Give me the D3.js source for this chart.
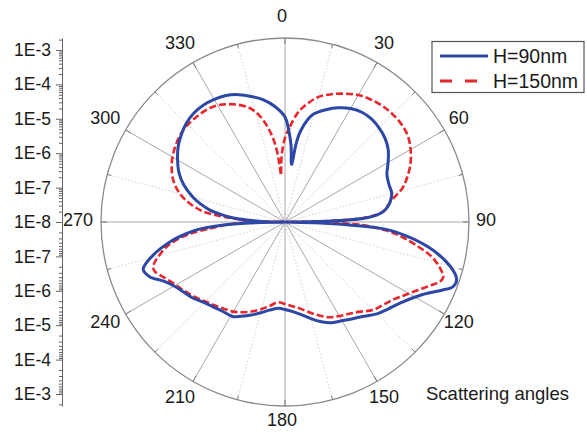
<!DOCTYPE html>
<html>
<head>
<meta charset="utf-8">
<script src="https://cdn.jsdelivr.net/npm/d3@7"></script>
<style>
  body { margin: 0; background: #fff; }
  svg { display: block; }
  text { font-family: "Liberation Sans", Arial, sans-serif; fill: #1a1a1a; }
</style>
</head>
<body>
<svg id="chart" width="587" height="432"></svg>
<script>
// Scattered intensity vs. scattering angle (degrees, clockwise from top)
const seriesNames = ["H=90nm", "H=150nm"];

const h90Angles = [0, 2, 4.5, 6.5, 8, 9.5, 12.5, 15, 20, 25, 30, 35, 40, 45, 50, 55, 60, 65, 70, 75, 80, 83, 85, 87, 88.5, 89.5, 90.5, 91.5, 92.5, 93.5, 95, 100, 105, 108.5, 111, 113.5, 118, 125, 130, 135, 140, 145, 150, 155, 160, 165, 170, 175, 180, 184, 190, 195, 200, 205, 209, 215, 220, 225, 230, 235, 240, 244, 248, 251.5, 254, 256, 258, 261, 263, 265, 267, 268.3, 269.5, 271, 273, 275, 277, 279, 282, 285, 290, 295, 300, 305, 310, 315, 320, 325, 330, 335, 340, 345, 350, 355];
const h90Values = [1.13e-5, 5.4e-6, 1.73e-6, 4.85e-7, 1.85e-6, 4.42e-6, 1.13e-5, 1.80e-5, 2.98e-5, 4.6e-5, 6.43e-5, 7.86e-5, 8.13e-5, 7.35e-5, 6.22e-5, 4.6e-5, 2.88e-5, 1.86e-5, 1.63e-5, 1.63e-5, 1.21e-5, 8.63e-6, 5.78e-6, 2.42e-6, 3.97e-7, 5.3e-8, 1e-8, 7.4e-8, 5.55e-7, 4.13e-6, 1.58e-5, 1.75e-4, 9.35e-4, 1.83e-3, 1.71e-3, 9.35e-4, 3.2e-4, 1.26e-4, 8.4e-5, 6.01e-5, 3.76e-5, 2.69e-5, 2.06e-5, 1.69e-5, 1.21e-5, 8.07e-6, 5.4e-6, 4.13e-6, 3.5e-6, 3.27e-6, 4.0e-6, 5.4e-6, 7.55e-6, 1.05e-5, 1.38e-5, 1.47e-5, 1.69e-5, 2.06e-5, 2.88e-5, 3.76e-5, 5.26e-5, 8.4e-5, 1.75e-4, 2.22e-4, 1.44e-4, 8.69e-5, 4.92e-5, 1.93e-5, 8.63e-6, 3.61e-6, 7.76e-7, 1.45e-7, 1e-8, 3.8e-8, 1.27e-7, 3.97e-7, 8.3e-7, 1.62e-6, 3.16e-6, 5.78e-6, 1.33e-5, 2.52e-5, 4.03e-5, 6.22e-5, 8.69e-5, 1.14e-4, 1.34e-4, 1.39e-4, 1.30e-4, 1.14e-4, 8.69e-5, 6.01e-5, 4.03e-5, 2.35e-5];

const h150Angles = [0, 3, 7, 11, 15, 20, 25, 30, 35, 40, 45, 50, 55, 60, 65, 70, 74, 78, 81, 83.5, 85.5, 87, 88, 89, 90, 91, 92.2, 94.6, 97.2, 100.5, 103.3, 106.6, 109.1, 111.1, 113.2, 117, 121.3, 125, 130, 135, 140, 145, 150, 155, 160, 165, 170, 175, 180, 185, 190, 195, 200, 205, 210, 215, 220, 225, 230, 235, 240, 245, 249, 251, 253, 255.5, 258.2, 260, 262.5, 265.5, 268.5, 269.5, 270, 271, 272, 275, 277.2, 281, 285, 290, 297.4, 305, 312, 320, 328, 335, 341.6, 345, 348, 351.3, 353.5, 354.5, 355.2, 356, 357.2];
const h150Values = [2.77e-6, 5.97e-6, 1.69e-5, 3.29e-5, 5.82e-5, 8.98e-5, 1.30e-4, 1.82e-4, 2.22e-4, 2.54e-4, 2.67e-4, 2.62e-4, 2.29e-4, 1.64e-4, 1.06e-4, 6.01e-5, 3.52e-5, 1.58e-5, 1.05e-5, 8.07e-6, 4.72e-6, 1.85e-6, 6.35e-7, 1.04e-7, 1e-8, 1.45e-7, 1.73e-6, 8.07e-6, 2.62e-5, 8.75e-5, 2.40e-4, 5.05e-4, 7.4e-4, 6.7e-4, 4.39e-4, 2.23e-4, 1.21e-4, 7.86e-5, 5.43e-5, 4.16e-5, 2.52e-5, 1.80e-5, 1.43e-5, 1.13e-5, 7.8e-6, 5.22e-6, 3.61e-6, 2.86e-6, 2.42e-6, 2.2e-6, 2.96e-6, 4.13e-6, 5.78e-6, 7.8e-6, 1.02e-5, 1.21e-5, 1.47e-5, 1.86e-5, 2.52e-5, 3.4e-5, 4.6e-5, 7.11e-5, 1.1e-4, 1.14e-4, 8.98e-5, 5.62e-5, 3.29e-5, 1.93e-5, 7.55e-6, 1.24e-6, 2.53e-7, 3.8e-8, 1e-8, 3.8e-8, 1.04e-7, 6.35e-7, 2.42e-6, 6.6e-6, 1.43e-5, 2.79e-5, 5.12e-5, 7.6e-5, 9.61e-5, 9.93e-5, 8.98e-5, 6.01e-5, 3.4e-5, 2.06e-5, 1.05e-5, 3.61e-6, 1.24e-6, 4.54e-7, 2.32e-7, 3.97e-7, 8.87e-7];

const angleTicks = [0, 30, 60, 90, 120, 150, 180, 210, 240, 270, 300, 330];
const radialTicks = [1e-8, 1e-7, 1e-6, 1e-5, 1e-4, 1e-3];
const radialMax = 2.23e-3;
const axisTitle = "Scattering angles";

const svg = d3.select("#chart");
const cx = 285, cy = 222, R = 184;
const toRad = d => d * Math.PI / 180;

const r = d3.scaleLog().domain([1e-8, radialMax]).range([0, R]).clamp(true);

const plot = svg.append("g").attr("transform", `translate(${cx},${cy})`);

// spokes: solid every 30°, dotted halfway between
const spokeAngles = d3.range(0, 360, 15);
plot.selectAll("line.spoke").data(spokeAngles).join("line")
  .attr("x1", 0).attr("y1", 0)
  .attr("x2", d => R * Math.sin(toRad(d)))
  .attr("y2", d => -R * Math.cos(toRad(d)))
  .attr("stroke", d => d % 30 === 0 ? "#a8a8a8" : "#d2d2d2")
  .attr("stroke-width", 1)
  .attr("stroke-dasharray", d => d % 30 === 0 ? null : "1.5,2");

// tick marks on the rim
plot.selectAll("line.rimtick").data(spokeAngles).join("line")
  .attr("x1", d => R * Math.sin(toRad(d)))
  .attr("y1", d => -R * Math.cos(toRad(d)))
  .attr("x2", d => (R - (d % 30 === 0 ? 6 : 4)) * Math.sin(toRad(d)))
  .attr("y2", d => -(R - (d % 30 === 0 ? 6 : 4)) * Math.cos(toRad(d)))
  .attr("stroke", "#777").attr("stroke-width", 1);

plot.append("circle").attr("r", R)
  .attr("fill", "none").attr("stroke", "#8a8a8a").attr("stroke-width", 1.3);

// curves
const radial = d3.lineRadial()
  .angle(d => toRad(d[0]))
  .radius(d => r(d[1]))
  .curve(d3.curveCatmullRomClosed.alpha(0.5));

const h90 = h90Angles.map((a, i) => [a, h90Values[i]]);
const h150 = h150Angles.map((a, i) => [a, h150Values[i]]);

plot.append("path").attr("d", radial(h150))
  .attr("fill", "none").attr("stroke", "#e8262b").attr("stroke-width", 2.6)
  .attr("stroke-dasharray", "7,3");

plot.append("path").attr("d", radial(h90))
  .attr("fill", "none").attr("stroke", "#2c47a6").attr("stroke-width", 3);

// angular labels (kept inside the bottom edge of the page)
const labelR = 204;
plot.selectAll("text.ang").data(angleTicks).join("text")
  .attr("x", d => labelR * Math.sin(toRad(d)) - 3)
  .attr("y", d => Math.min(-labelR * Math.cos(toRad(d)) - 2, 432 - cy - 12))
  .attr("text-anchor", "middle")
  .attr("dominant-baseline", "central")
  .attr("font-size", 18)
  .text(d => d);

// mirrored log radial axis on the left
const axisX = 62;
const minorTicks = [];
for (let e = -8; e <= -3; e++) {
  for (let k = 2; k <= 9; k++) {
    const v = k * Math.pow(10, e);
    if (v <= radialMax) minorTicks.push(v);
  }
}
const fmt = d => "1E" + Math.round(Math.log10(d));

const yUp = d3.scaleLog().domain([1e-8, radialMax]).range([cy, cy - R]);
const yDown = d3.scaleLog().domain([1e-8, radialMax]).range([cy, cy + R]);

function drawAxis(scale, withCenterLabel) {
  const g = svg.append("g").attr("transform", `translate(${axisX},0)`);
  g.call(d3.axisLeft(scale).tickValues(minorTicks).tickSize(3).tickSizeOuter(0).tickFormat(""));
  const major = svg.append("g").attr("transform", `translate(${axisX},0)`);
  major.call(d3.axisLeft(scale)
    .tickValues(withCenterLabel ? radialTicks : radialTicks.slice(1))
    .tickSize(6).tickPadding(5).tickSizeOuter(0).tickFormat(fmt));
  major.select(".domain").remove();
  [g, major].forEach(s => {
    s.selectAll("line").attr("stroke", "#666");
    s.selectAll("path.domain").attr("stroke", "#666");
  });
  major.selectAll("text").attr("font-size", 17.5).attr("fill", "#1a1a1a")
    .attr("font-family", '"Liberation Sans", Arial, sans-serif');
}
drawAxis(yUp, true);
drawAxis(yDown, false);

svg.append("text").attr("x", 426).attr("y", 400)
  .attr("font-size", 18.5).text(axisTitle);

// legend
const lg = svg.append("g");
lg.append("rect").attr("x", 432).attr("y", 41.5).attr("width", 152).attr("height", 51)
  .attr("fill", "#fff").attr("stroke", "#555").attr("stroke-width", 1.2);
const legendRows = [
  { name: seriesNames[0], color: "#2c47a6", dash: null, w: 3, len: 48 },
  { name: seriesNames[1], color: "#e8262b", dash: "12,13", w: 3, len: 37 }
];
legendRows.forEach((row, i) => {
  const y = 56 + i * 25;
  lg.append("line").attr("x1", 440).attr("x2", 440 + row.len).attr("y1", y).attr("y2", y)
    .attr("stroke", row.color).attr("stroke-width", row.w).attr("stroke-dasharray", row.dash);
  lg.append("text").attr("x", 493).attr("y", y + 7).attr("font-size", 19.5).text(row.name);
});
</script>
</body>
</html>
